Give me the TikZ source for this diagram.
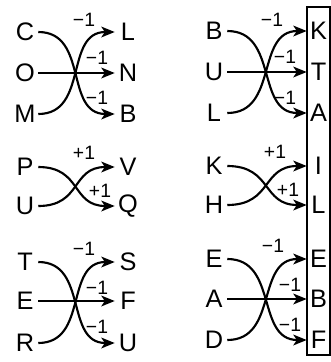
\documentclass[tikz,border=0pt]{standalone}
\usepackage{fontspec}
\setmainfont{Liberation Sans}
\usetikzlibrary{arrows.meta}

\begin{document}
\begin{tikzpicture}[
  x=0.75pt,y=-0.75pt,
  letra/.style={inner sep=0pt,minimum width=19.5pt,font=\fontsize{19}{19}\selectfont},
  caixaletra/.style={inner sep=0pt,minimum width=17.25pt,font=\fontsize{19}{19}\selectfont},
  rotulo/.style={inner sep=0pt,font=\fontsize{14.5}{14.5}\selectfont},
  seta/.style={-{Stealth[length=10pt,width=8pt,inset=2.5pt]},line width=1.6pt},
  curva/.style={seta,out=0,in=180,looseness=1.15}
]
\useasboundingbox (0,0) rectangle (331,362);

% coluna esquerda, grupo 1
\node[letra] (c) at (25,32) {C};
\node[letra] (o) at (25,73) {O};
\node[letra] (m) at (25,114) {M};
\node[letra] (l1) at (128,32) {L};
\node[letra] (n) at (128,73) {N};
\node[letra] (b1) at (128,114) {B};
\draw[curva] (c.east) to (b1.west);
\draw[curva] (m.east) to (l1.west);
\draw[seta] (o.east)--(n.west);
\node[rotulo] at (84,20) {−1};
\node[rotulo] at (97,58) {−1};
\node[rotulo] at (97,98) {−1};

% coluna esquerda, grupo 2
\node[letra] (p) at (25,167) {P};
\node[letra] (u1) at (25,206) {U};
\node[letra] (v) at (128,167) {V};
\node[letra] (q) at (128,206) {Q};
\draw[curva,looseness=1.3] (p.east) to (q.west);
\draw[curva,looseness=1.3] (u1.east) to (v.west);
\node[rotulo] at (84,153) {+1};
\node[rotulo] at (100,191) {+1};

% coluna esquerda, grupo 3
\node[letra] (t1) at (25,262) {T};
\node[letra] (e1) at (25,301) {E};
\node[letra] (r) at (25,343) {R};
\node[letra] (s) at (128,262) {S};
\node[letra] (f1) at (128,301) {F};
\node[letra] (u2) at (128,343) {U};
\draw[curva] (t1.east) to (u2.west);
\draw[curva] (r.east) to (s.west);
\draw[seta] (e1.east)--(f1.west);
\node[rotulo] at (84,249) {−1};
\node[rotulo] at (97,288) {−1};
\node[rotulo] at (97,327) {−1};

% coluna direita, grupo 1
\node[letra] (b2) at (214,31) {B};
\node[letra] (u3) at (214,72) {U};
\node[letra] (l2) at (214,113) {L};
\node[caixaletra] (k1) at (318.5,31) {K};
\node[caixaletra] (t2) at (318.5,72) {T};
\node[caixaletra] (a1) at (318.5,113) {A};
\draw[curva] (b2.east) to (a1.west);
\draw[curva] (l2.east) to (k1.west);
\draw[seta] (u3.east)--(t2.west);
\node[rotulo] at (272,20) {−1};
\node[rotulo] at (285,57) {−1};
\node[rotulo] at (285,98) {−1};

% coluna direita, grupo 2
\node[letra] (k2) at (214,166) {K};
\node[letra] (h) at (214,205) {H};
\node[caixaletra] (i) at (318.5,166) {I};
\node[caixaletra] (l3) at (318.5,205) {L};
\draw[curva,looseness=1.3] (k2.east) to (l3.west);
\draw[curva,looseness=1.3] (h.east) to (i.west);
\node[rotulo] at (275,152) {+1};
\node[rotulo] at (288,190) {+1};

% coluna direita, grupo 3
\node[letra] (e2) at (214,259) {E};
\node[letra] (a2) at (214,299) {A};
\node[letra] (d) at (214,340) {D};
\node[caixaletra] (e3) at (318.5,259) {E};
\node[caixaletra] (b3) at (318.5,299) {B};
\node[caixaletra] (f2) at (318.5,340) {F};
\draw[curva] (e2.east) to (f2.west);
\draw[curva] (d.east) to (e3.west);
\draw[seta] (a2.east)--(b3.west);
\node[rotulo] at (273,246) {−1};
\node[rotulo] at (290,285) {−1};
\node[rotulo] at (290,325) {−1};

% caixa da resposta
\draw[line width=1pt] (307,7) rectangle (330,355);
\end{tikzpicture}
\end{document}
